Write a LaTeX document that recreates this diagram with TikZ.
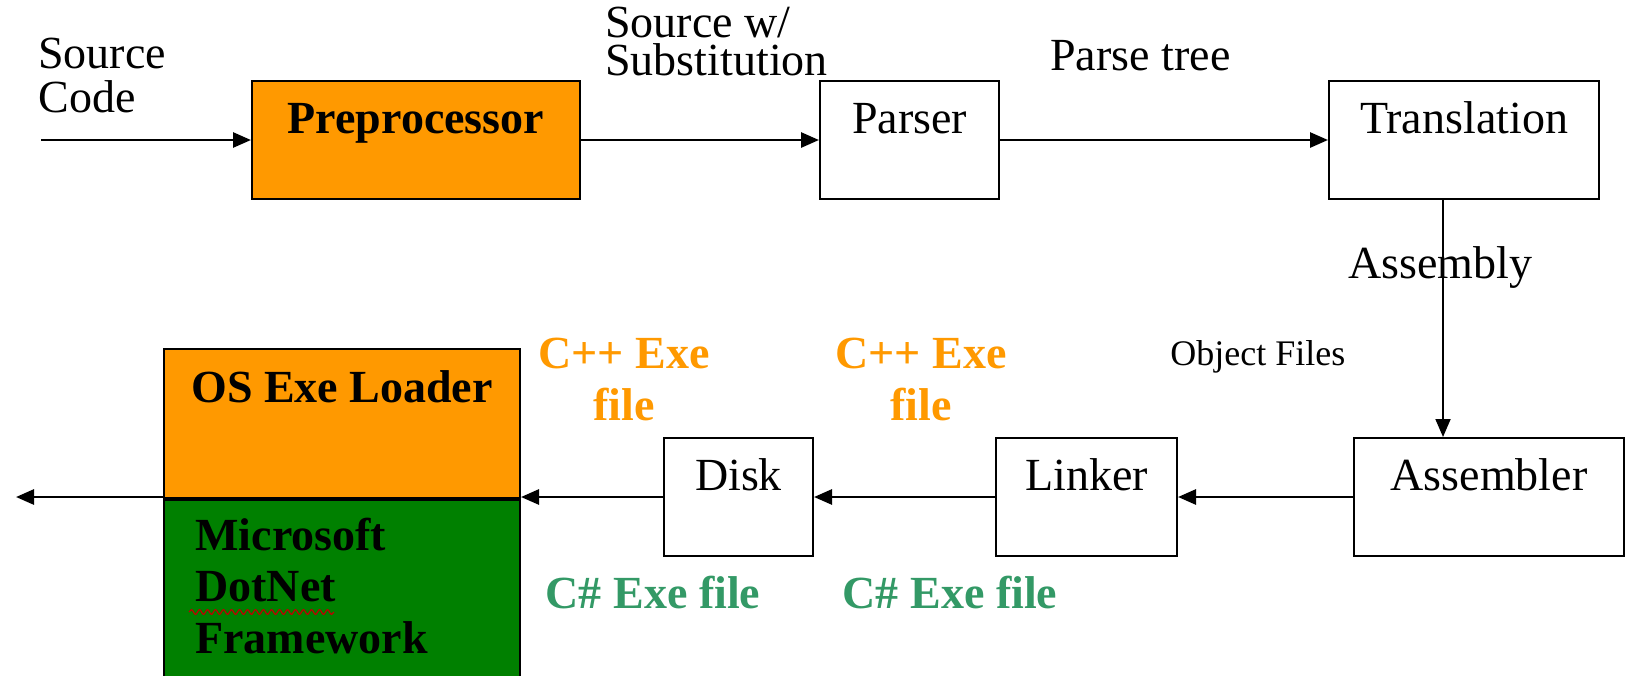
\documentclass[tikz,border=0pt]{standalone}
\usepackage{fontspec}
\setmainfont{Liberation Serif}
\usetikzlibrary{arrows.meta, positioning, decorations.pathmorphing}

\definecolor{loaderorange}{RGB}{255,153,0}
\definecolor{dotnetgreen}{RGB}{0,128,0}
\definecolor{cppcolor}{RGB}{255,153,0}
\definecolor{cscolor}{RGB}{51,153,102}

\begin{document}
\begin{tikzpicture}[
        x=0.5pt, y=-0.5pt,
        every node/.style={font=\fontsize{23}{26}\selectfont},
        box/.style={rectangle, draw=black, line width=1pt, fill=white, inner xsep=0pt, inner ysep=0pt, text height=26pt, text depth=33pt},
        stage/.style={box, fill=loaderorange, font=\fontsize{23}{26}\selectfont\bfseries},
        runtime/.style={rectangle, draw=black, line width=1pt, fill=dotnetgreen, minimum width=178pt, minimum height=92pt, inner sep=0pt},
        lbl/.style={anchor=base west, inner sep=0pt, align=left},
        cpp/.style={anchor=base, inner sep=0pt, align=center, text=cppcolor, font=\fontsize{23}{26}\selectfont\bfseries},
        cs/.style={anchor=base, inner sep=0pt, text=cscolor, font=\fontsize{23}{26}\selectfont\bfseries},
        arrow/.style={-{Triangle[length=9pt, width=7.5pt]}, line width=1.4pt},
        spell/.style={draw=red!75!black, line width=0.6pt, decorate, decoration={snake, amplitude=1.2pt, segment length=4pt}}
    ]
        \useasboundingbox (0,0) rectangle (1626,675);

        % Front end (top row)
        \node[stage, anchor=north west, minimum width=164pt] (prep) at (251,80) {Preprocessor};
        \node[box, right=119pt of prep, minimum width=89.5pt] (parser) {Parser};
        \node[box, right=164pt of parser, minimum width=135pt] (trans) {Translation};

        % Back end (bottom row)
        \node[box, anchor=north west, minimum width=135pt] (asm) at (1353,437) {Assembler};
        \node[box, left=87.5pt of asm, minimum width=90.5pt] (linker) {Linker};
        \node[box, left=90.5pt of linker, minimum width=74.5pt] (disk) {Disk};

        % Loader / runtime
        \node[stage, anchor=north west, minimum width=178pt, text height=26.5pt, text depth=48pt] (loader) at (163,348) {OS Exe Loader};
        \node[runtime, below=0pt of loader] (dotnet) {};
        \node[lbl, font=\fontsize{23}{25.75}\selectfont\bfseries] (netlbl) at (195,653) {Microsoft\\DotNet\\Framework};
        \draw[spell] (189,612) -- (334,612);

        % Labels
        \node[lbl, font=\fontsize{23}{22}\selectfont] (srclbl) at (38,112) {Source\\Code};
        \node[lbl, font=\fontsize{23}{19}\selectfont] (sublbl) at (605,75) {Source w/\\Substitution};
        \node[lbl] (treelbl) at (1050,70) {Parse tree};
        \node[lbl] (asmlbl) at (1348,278) {Assembly};
        \node[lbl, font=\fontsize{18}{20}\selectfont] (objlbl) at (1170,365) {Object Files};
        \node[cpp] (cppdisk) at (624,420) {C++ Exe\\file};
        \node[cpp] (cpplink) at (921,420) {C++ Exe\\file};
        \node[cs] (csdisk) at (653,608) {C\# Exe file};
        \node[cs] (cslink) at (950,608) {C\# Exe file};

        % Connections
        \coordinate (in) at (41,0);
        \coordinate (drop) at (1443,0);
        \coordinate (out) at (16,0);
        \draw[arrow] (in |- prep.west) -- (prep.west);
        \draw[arrow] (prep) -- (parser);
        \draw[arrow] (parser) -- (trans);
        \draw[arrow, line width=0.9pt] (trans.south -| drop) -- (asm.north -| drop);
        \draw[arrow] (asm) -- (linker);
        \draw[arrow] (linker) -- (disk);
        \draw[arrow] (disk.west) -- (disk.west -| loader.east);
        \draw[arrow] (loader.south west |- disk.west) -- (out |- disk.west);
\end{tikzpicture}
\end{document}
